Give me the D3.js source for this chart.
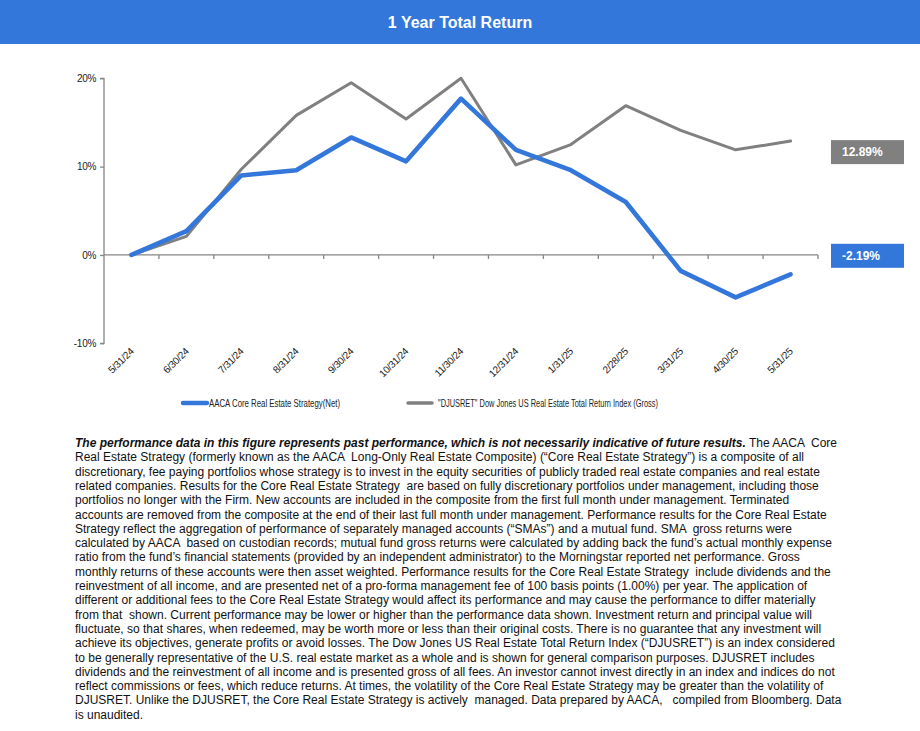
<!DOCTYPE html>
<html><head><meta charset="utf-8">
<script src="https://cdn.jsdelivr.net/npm/d3@7"></script>
<style>
html,body{margin:0;padding:0;background:#fff;}
svg{display:block;font-family:"Liberation Sans",Arial,sans-serif;}
</style></head>
<body><svg id="c" width="920" height="731"></svg>
<script>
const dates = ["5/31/24","6/30/24","7/31/24","8/31/24","9/30/24","10/31/24","11/30/24","12/31/24","1/31/25","2/28/25","3/31/25","4/30/25","5/31/25"];
const aacaValues = [0, 2.7, 9.0, 9.6, 13.3, 10.6, 17.7, 11.9, 9.6, 6.0, -1.8, -4.8, -2.19];
const djusretValues = [0, 2.1, 9.7, 15.8, 19.5, 15.4, 20.0, 10.2, 12.5, 16.9, 14.1, 11.9, 12.89];
const yTicks = [-10, 0, 10, 20];
const seriesNames = ["AACA Core Real Estate Strategy(Net)", "\"DJUSRET\" Dow Jones US Real Estate Total Return Index (Gross)"];
const endLabels = ["-2.19%", "12.89%"];
const titleText = "1 Year Total Return";
const boldLead = "The performance data in this figure represents past performance, which is not necessarily indicative of future results.";
const disclaimerLines = [
" The AACA  Core",
"Real Estate Strategy (formerly known as the AACA  Long-Only Real Estate Composite) (\u201cCore Real Estate Strategy\u201d) is a composite of all",
"discretionary, fee paying portfolios whose strategy is to invest in the equity securities of publicly traded real estate companies and real estate",
"related companies. Results for the Core Real Estate Strategy  are based on fully discretionary portfolios under management, including those",
"portfolios no longer with the Firm. New accounts are included in the composite from the first full month under management. Terminated",
"accounts are removed from the composite at the end of their last full month under management. Performance results for the Core Real Estate",
"Strategy reflect the aggregation of performance of separately managed accounts (\u201cSMAs\u201d) and a mutual fund. SMA  gross returns were",
"calculated by AACA  based on custodian records; mutual fund gross returns were calculated by adding back the fund\u2019s actual monthly expense",
"ratio from the fund\u2019s financial statements (provided by an independent administrator) to the Morningstar reported net performance. Gross",
"monthly returns of these accounts were then asset weighted. Performance results for the Core Real Estate Strategy  include dividends and the",
"reinvestment of all income, and are presented net of a pro-forma management fee of 100 basis points (1.00%) per year. The application of",
"different or additional fees to the Core Real Estate Strategy would affect its performance and may cause the performance to differ materially",
"from that  shown. Current performance may be lower or higher than the performance data shown. Investment return and principal value will",
"fluctuate, so that shares, when redeemed, may be worth more or less than their original costs. There is no guarantee that any investment will",
"achieve its objectives, generate profits or avoid losses. The Dow Jones US Real Estate Total Return Index (\u201cDJUSRET\u201d) is an index considered",
"to be generally representative of the U.S. real estate market as a whole and is shown for general comparison purposes. DJUSRET includes",
"dividends and the reinvestment of all income and is presented gross of all fees. An investor cannot invest directly in an index and indices do not",
"reflect commissions or fees, which reduce returns. At times, the volatility of the Core Real Estate Strategy may be greater than the volatility of",
"DJUSRET. Unlike the DJUSRET, the Core Real Estate Strategy is actively  managed. Data prepared by AACA,   compiled from Bloomberg. Data",
"is unaudited."
];

const BLUE = "#3477DB", GRAY = "#808080", AXIS = "#868686";
const svg = d3.select("#c");

// title bar
svg.append("rect").attr("x",0).attr("y",0).attr("width",920).attr("height",44).attr("fill",BLUE);
svg.append("text").attr("x",460).attr("y",22).attr("dy","0.36em").attr("text-anchor","middle")
  .attr("fill","#fff").attr("font-weight","bold").attr("font-size",16).text(titleText);

const x = d3.scaleBand().domain(dates).range([104, 818]).padding(0);
const y = d3.scaleLinear().domain([-10, 20]).range([343.3, 78.3]);
const cx = d => x(d) + x.bandwidth()/2;

// y axis
const yAxis = d3.axisLeft(y).tickValues(yTicks).tickFormat(d => d + "%").tickSize(4).tickPadding(4);
const gy = svg.append("g").attr("transform","translate(104,0)").call(yAxis);
gy.select(".domain").attr("stroke",AXIS).attr("stroke-width",1.3).attr("d","M-4,"+y(20)+"H0V"+y(-10)+"H-4");
gy.selectAll(".tick line").attr("stroke",AXIS).attr("stroke-width",1.3);
gy.selectAll(".tick text").attr("font-size",10).attr("fill","#222").attr("letter-spacing","-0.3px")
  .attr("font-family","'Liberation Sans',Arial,sans-serif");

// x axis at 0%
const xAxis = d3.axisBottom(x).tickSize(0).tickFormat("");
const gx = svg.append("g").attr("transform","translate(0,"+y(0)+")").call(xAxis);
gx.select(".domain").attr("stroke",AXIS).attr("stroke-width",1.3).attr("d","M104,0H818");
gx.selectAll(".tick").remove();
svg.append("g").selectAll("line").data(dates).join("line")
  .attr("x1",d=>x(d)+x.bandwidth()).attr("x2",d=>x(d)+x.bandwidth())
  .attr("y1",y(0)).attr("y2",y(0)+4).attr("stroke",AXIS).attr("stroke-width",1.3);

// x labels at bottom
svg.append("g").selectAll("text").data(dates).join("text")
  .attr("transform",d=>"translate("+(cx(d)+3)+",352) rotate(-45)")
  .attr("text-anchor","end").attr("font-size",10).attr("letter-spacing","-0.3px").attr("fill","#222")
  .text(d=>d);

// lines
const line = d3.line().x((d,i)=>cx(dates[i])).y(d=>y(d));
svg.append("path").datum(djusretValues).attr("d",line).attr("fill","none")
  .attr("stroke",GRAY).attr("stroke-width",3).attr("stroke-linejoin","round").attr("stroke-linecap","round");
svg.append("path").datum(aacaValues).attr("d",line).attr("fill","none")
  .attr("stroke",BLUE).attr("stroke-width",4.6).attr("stroke-linejoin","round").attr("stroke-linecap","round");

// end labels
const lastI = dates.length - 1;
const boxes = [
  {v: aacaValues[lastI], label: endLabels[0], color: BLUE, dy: -18.5},
  {v: djusretValues[lastI], label: endLabels[1], color: GRAY, dy: 11}
];
boxes.forEach(b => {
  const yc = y(b.v) + b.dy;
  svg.append("rect").attr("x",831).attr("y",yc-12).attr("width",73).attr("height",24).attr("fill",b.color);
  svg.append("text").attr("x",842).attr("y",yc).attr("dy","0.36em").attr("fill","#fff")
    .attr("font-weight","bold").attr("font-size",12).text(b.label);
});

// legend
const legend = [
  {name: seriesNames[0], color: BLUE, w: 4.5, x1: 183, x2: 207, tx: 209, tl: 131},
  {name: seriesNames[1], color: GRAY, w: 3.5, x1: 408, x2: 432, tx: 438, tl: 220}
];
legend.forEach(l => {
  svg.append("line").attr("x1",l.x1).attr("x2",l.x2).attr("y1",403).attr("y2",403)
    .attr("stroke",l.color).attr("stroke-width",l.w).attr("stroke-linecap","round");
  svg.append("text").attr("x",l.tx).attr("y",403).attr("dy","0.35em").attr("font-size",10.5)
    .attr("textLength",l.tl).attr("lengthAdjust","spacingAndGlyphs").attr("fill","#222").text(l.name);
});

// disclaimer paragraph
const para = svg.append("g").attr("font-size",12).attr("fill","#111");
disclaimerLines.forEach((t,i) => {
  const tx = para.append("text").attr("x",75).attr("y",447 + i*14.3).attr("xml:space","preserve");
  if (i === 0) {
    tx.append("tspan").attr("font-weight","bold").attr("font-style","italic").text(boldLead);
    tx.append("tspan").text(t);
  } else {
    tx.text(t);
  }
});
</script></body></html>
